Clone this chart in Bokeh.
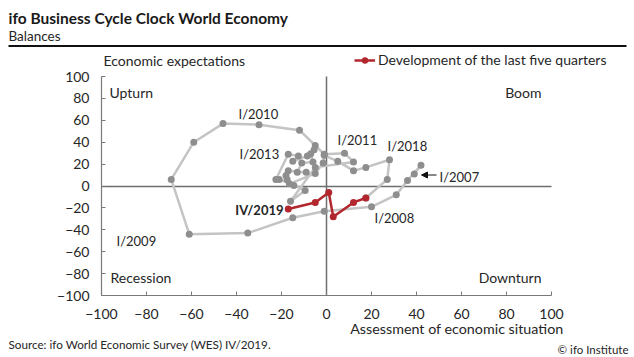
from bokeh.plotting import figure
from bokeh.models import (Range1d, Label, Arrow, NormalHead, BoxAnnotation, Legend,
                          LegendItem, FixedTicker, LinearAxis)
from bokeh.embed import file_html
from bokeh.resources import INLINE

# ---------------- data ----------------
years = list(range(2007, 2020))
quarters = [f"{q}/{y}" for y in years for q in ["I", "II", "III", "IV"]]

# Assessment of economic situation (balance)
situation = [39, 42, 36, 31,
             20, -1, -15, -35,
             -61, -69, -59, -46,
             -30, -12, -5, -1,
             8, 12, -5, -16,
             -9.5, -14.5, -21, -22.5,
             -17, -12.5, -15, -8.5,
             -5.5, -7, -6, -11,
             -13, -9, -17, -18,
             -17.5, -16.5, -5, -1.5,
             -1, 5, 12, 17.5,
             28, 27, 17.5, 12,
             3, 1, -5, -17]

# Economic expectations (balance)
expectations = [11, 19, 5, -8,
                -19, -23, -29, -43,
                -44, 6, 40, 57,
                56, 51, 37, 29,
                30, 22, 17, -14,
                -4, 0.5, 6, 6,
                29, 27.5, 22.5, 27.5,
                33, 29.5, 22, 21,
                12.5, 12.5, 14, 9.5,
                6, 2, 11.5, 21,
                28, 22.5, 14, 17,
                24, 6, -11, -15,
                -28, -6, -15, -21]

n_last = 5  # development of the last five quarters
ticks = [-100, -80, -60, -40, -20, 0, 20, 40, 60, 80, 100]

# ---------------- layout helpers ----------------
FONT = "Lato"
TXT = "#262626"
W, H = 634, 357
FX0, FX1, FY0, FY1 = 101, 551, 76, 295   # canvas pixels of the -100..100 square


def X(px):
    return ticks[0] + (px - FX0) * (ticks[-1] - ticks[0]) / (FX1 - FX0)


def Y(py):
    return ticks[-1] - (py - FY0) * (ticks[-1] - ticks[0]) / (FY1 - FY0)


p = figure(width=W, height=H, output_backend="svg", toolbar_location=None,
           x_range=Range1d(X(0), X(W)), y_range=Range1d(Y(H), Y(0)),
           min_border_left=0, min_border_right=0, min_border_top=0, min_border_bottom=0)
p.outline_line_color = None
p.grid.visible = False
p.background_fill_color = "white"
p.border_fill_color = "white"

for ax in (p.xaxis[0], p.yaxis[0]):
    ax.fixed_location = ticks[0]
    ax.bounds = (ticks[0], ticks[-1])
    ax.ticker = FixedTicker(ticks=ticks)
    ax.major_tick_in = 4
    ax.major_tick_out = 0
    ax.minor_tick_in = 0
    ax.minor_tick_out = 0
    ax.axis_line_color = "#7a7a7a"
    ax.axis_line_width = 1.2
    ax.major_tick_line_color = "#7a7a7a"
    ax.major_label_text_font = FONT
    ax.major_label_text_font_size = "14px"
    ax.major_label_text_color = TXT
p.xaxis[0].major_label_standoff = 13
p.yaxis[0].major_label_standoff = 12

# zero lines (axes through the origin, without ticks)
for side in ("below", "left"):
    z = LinearAxis(fixed_location=0, bounds=(ticks[0], ticks[-1]),
                   ticker=FixedTicker(ticks=[]), axis_line_color="#6e6e6e",
                   axis_line_width=1.5, major_tick_in=0, major_tick_out=0,
                   minor_tick_in=0, minor_tick_out=0, level="underlay")
    p.add_layout(z, side)

split = len(quarters) - n_last - 1
gx, gy = situation[:split + 1], expectations[:split + 1]
rx, ry = situation[split:], expectations[split:]

p.line(gx, gy, line_color="#c4c4c4", line_width=2.5)
p.scatter(gx, gy, size=7, fill_color="#8e8e8e", line_color=None)
red_line = p.line(rx, ry, line_color="#b2262d", line_width=2.5)
red_pts = p.scatter(rx, ry, size=7, fill_color="#b2262d", line_color=None)


def lab(text, px, py, size="13px", align="left", bold=False, color=TXT):
    p.add_layout(Label(x=X(px), y=Y(py), text=text, text_align=align,
                       text_baseline="middle", text_font=FONT,
                       text_font_size=size, text_color=color,
                       text_font_style="bold" if bold else "normal"))


# header
lab("ifo Business Cycle Clock World Economy", 8, 17, size="15.5px", bold=True, color="#1a1a1a")
lab("Balances", 8, 35, size="13.5px")
p.add_layout(BoxAnnotation(left=X(8), right=X(626), top=Y(44.5), bottom=Y(46.5),
                           fill_color="#111111", fill_alpha=1, line_color=None))

# axis titles
lab("Economic expectations", 103, 60, size="14px")
lab("Assessment of economic situation", 563, 328, size="14.3px", align="right")

# quadrant names
lab("Upturn", 109, 92, size="14px")
lab("Boom", 541, 92, size="14px", align="right")
lab("Recession", 110, 277, size="14px")
lab("Downturn", 541, 277, size="14px", align="right")

# point labels
lab("I/2010", 238, 113)
lab("I/2013", 239, 153)
lab("I/2009", 116, 240)
lab("I/2011", 337, 139)
lab("I/2018", 387, 145)
lab("I/2007", 439, 176)
lab("I/2008", 374, 217)
lab("IV/2019", 283, 209, bold=True, align="right")

p.add_layout(Arrow(end=NormalHead(size=6, fill_color="#111111", line_color="#111111"),
                   x_start=X(436), y_start=Y(174.5), x_end=X(421), y_end=Y(174.5),
                   line_color="#111111", line_width=1))

# footer
lab("Source: ifo World Economic Survey (WES) IV/2019.", 8, 343, size="11.7px")
lab("\u00a9 ifo Institute", 628, 349, size="11.5px", align="right")

# legend (frame covers the whole canvas: location is from its bottom-left)
legend = Legend(items=[LegendItem(label="Development of the last five quarters",
                                  renderers=[red_line, red_pts])],
                location=(354, H - 68))
legend.border_line_color = None
legend.background_fill_alpha = 0
legend.padding = 0
legend.margin = 0
legend.spacing = 0
legend.glyph_width = 21
legend.glyph_height = 16
legend.label_height = 16
legend.label_standoff = 3
legend.label_text_font = FONT
legend.label_text_font_size = "14px"
legend.label_text_color = TXT
p.add_layout(legend)

open("out.html", "w").write(file_html(p, INLINE))
